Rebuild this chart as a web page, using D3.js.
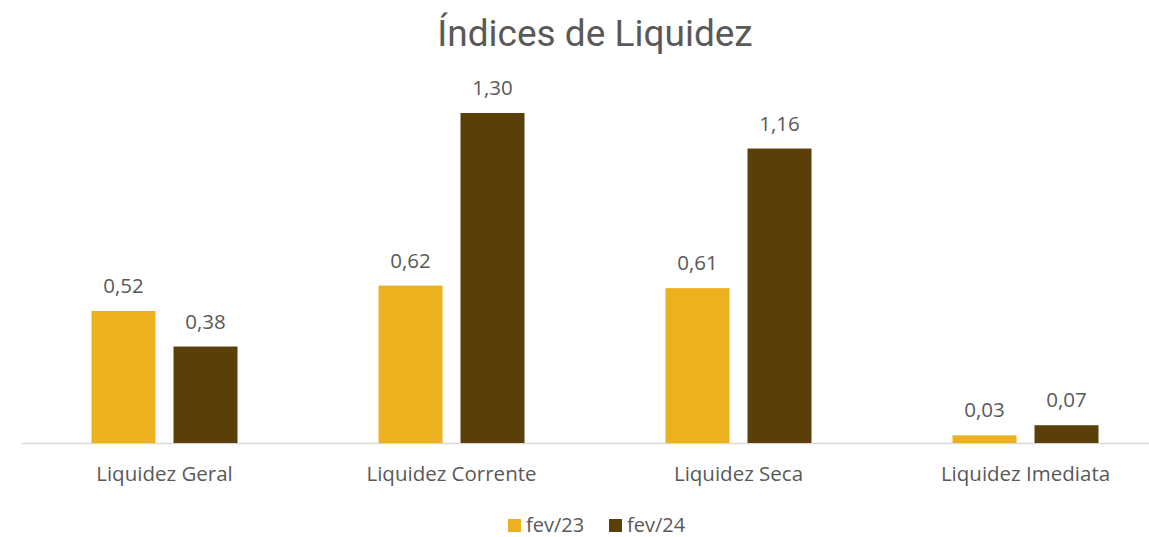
<!DOCTYPE html>
<meta charset="utf-8">
<style>
  body { margin: 0; background: #fff; }
  text { fill: #595959; }
</style>
<svg width="1149" height="537"></svg>
<script src="https://cdn.jsdelivr.net/npm/d3@7"></script>
<script>

var categories = ["Liquidez Geral", "Liquidez Corrente", "Liquidez Seca", "Liquidez Imediata"];
var seriesNames = ["fev/23", "fev/24"];
var fev23 = [0.52, 0.62, 0.61, 0.03];
var fev24 = [0.38, 1.30, 1.16, 0.07];
var colors = ["#EDB11F", "#5A3F0A"];

var svg = d3.select("svg"),
    baseY = 443,
    topY = 113;

var fmt = function(v) { return d3.format(".2f")(v).replace(".", ","); };

// category scale, plot runs a little off the right edge
var x = d3.scaleBand().domain(categories).range([21, 1169]).paddingInner(0).paddingOuter(0);
var y = d3.scaleLinear().domain([0, 1.30]).range([baseY, topY]);

var barW = 64, gap = 18;
var offs = [-(barW + gap) / 2, (barW + gap) / 2];

// title
svg.append("text")
    .attr("x", 595)
    .attr("y", 46)
    .attr("text-anchor", "middle")
    .style("font-family", "Roboto")
    .style("font-size", "37px")
    .text("Índices de Liquidez");

// axis line
svg.append("line")
    .attr("x1", 22).attr("x2", 1149)
    .attr("y1", baseY + 0.5).attr("y2", baseY + 0.5)
    .attr("stroke", "#D9D9D9")
    .attr("stroke-width", 1.5);

var series = [fev23, fev24];
series.forEach(function(vals, si) {
  var g = svg.append("g");
  g.selectAll("rect")
    .data(vals)
    .enter().append("rect")
      .attr("x", function(d, i) { return x(categories[i]) + x.bandwidth() / 2 + offs[si] - barW / 2; })
      .attr("y", function(d) { return y(d); })
      .attr("width", barW)
      .attr("height", function(d) { return baseY - y(d); })
      .attr("fill", colors[si]);

  g.selectAll("text")
    .data(vals)
    .enter().append("text")
      .attr("x", function(d, i) { return x(categories[i]) + x.bandwidth() / 2 + offs[si]; })
      .attr("y", function(d) { return y(d) - 18; })
      .attr("text-anchor", "middle")
      .style("font-family", "Open Sans")
      .style("font-size", "20.5px")
      .text(fmt);
});

// category labels
svg.append("g").selectAll("text")
  .data(categories)
  .enter().append("text")
    .attr("x", function(d) { return x(d) + x.bandwidth() / 2; })
    .attr("y", 481)
    .attr("text-anchor", "middle")
    .style("font-family", "Open Sans")
    .style("font-size", "20.5px")
    .text(function(d) { return d; });

// legend
var legend = svg.append("g");
var lx = [508, 609];
seriesNames.forEach(function(s, i) {
  legend.append("rect")
    .attr("x", lx[i]).attr("y", 519)
    .attr("width", 13).attr("height", 13)
    .attr("fill", colors[i]);
  legend.append("text")
    .attr("x", lx[i] + 18).attr("y", 532)
    .style("font-family", "Open Sans")
    .style("font-size", "20px")
    .text(s);
});

</script>
